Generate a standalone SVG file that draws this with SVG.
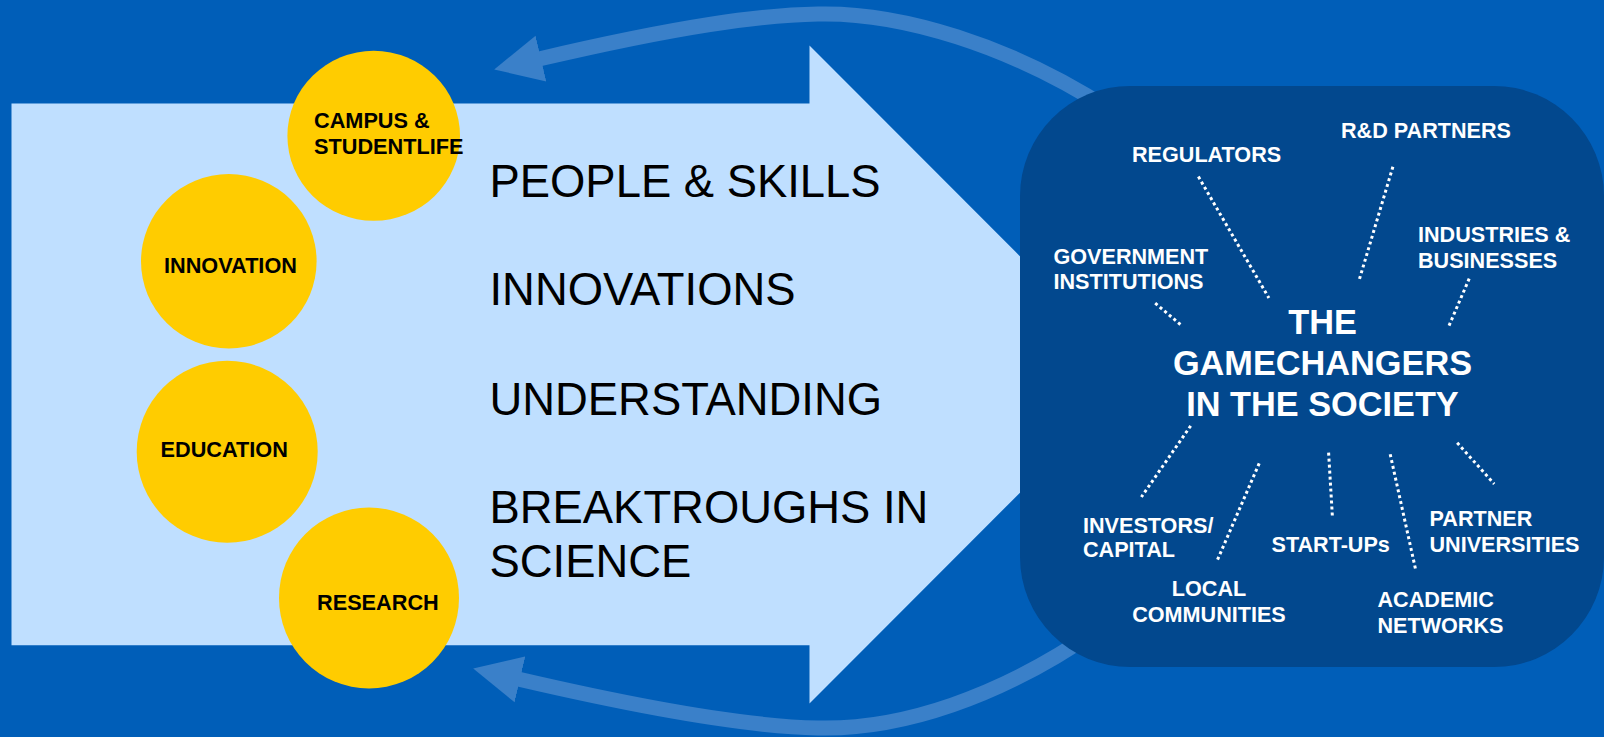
<svg xmlns="http://www.w3.org/2000/svg" width="1604" height="737" viewBox="0 0 1604 737">
  <style>
    .circ { fill: #FFCC00; }
    .clab { font-family: "Liberation Sans", Arial, sans-serif; font-weight: bold; font-size: 21.7px; fill: #000000; }
    .big { font-family: "Liberation Sans", Arial, sans-serif; font-size: 45.4px; fill: #000000; }
    .plab { font-family: "Liberation Sans", Arial, sans-serif; font-weight: bold; font-size: 21.6px; fill: #FFFFFF; }
    .title { font-family: "Liberation Sans", Arial, sans-serif; font-weight: bold; font-size: 34.3px; fill: #FFFFFF; }
    .dot { stroke: #FFFFFF; stroke-width: 3; stroke-dasharray: 3 3; fill: none; }
    .loop { stroke: #3A80C9; stroke-width: 15; fill: none; marker-end: url(#ah); }
  </style>
  <defs>
    <marker id="ah" markerUnits="userSpaceOnUse" markerWidth="50" markerHeight="50" viewBox="0 0 50 50" refX="2" refY="25" orient="auto">
      <path d="M0,1.5 L48,25 L0,48.5 z" fill="#3A80C9"/>
    </marker>
  </defs>

  <rect x="0" y="0" width="1604" height="737" fill="#005EB8"/>

  <g id="connectors-loop">
    <path class="loop" d="M 1110 110 C 1010 45, 900 12, 818 14 C 760 15, 680 26, 539 59"/>
    <path class="loop" d="M 1100 628 C 1000 698, 900 730, 818 728 C 760 727, 660 712, 518 679"/>
  </g>

  <g id="flow-arrow">
    <polygon points="11.5,103.4 809.5,103.4 809.5,45.6 1138,374.5 809.5,703.5 809.5,645.3 11.5,645.3" fill="#BFDFFF"/>
    <text class="big" x="489.5" y="196.7">PEOPLE &amp; SKILLS</text>
    <text class="big" x="489.5" y="305">INNOVATIONS</text>
    <text class="big" x="489.5" y="414.5">UNDERSTANDING</text>
    <text class="big" x="489.5" y="522.6">BREAKTROUGHS IN</text>
    <text class="big" x="489.5" y="577">SCIENCE</text>
  </g>

  <g id="node-campus">
    <ellipse class="circ" cx="373.7" cy="135.8" rx="86.3" ry="85"/>
    <text class="clab" x="314" y="127.7">CAMPUS &amp;</text>
    <text class="clab" x="314" y="154.3">STUDENTLIFE</text>
  </g>
  <g id="node-innovation">
    <ellipse class="circ" cx="228.8" cy="261.3" rx="87.8" ry="87.2"/>
    <text class="clab" x="164" y="273.3">INNOVATION</text>
  </g>
  <g id="node-education">
    <ellipse class="circ" cx="227.2" cy="451.8" rx="90.5" ry="91"/>
    <text class="clab" x="160.5" y="456.7">EDUCATION</text>
  </g>
  <g id="node-research">
    <ellipse class="circ" cx="369" cy="598" rx="90" ry="90.5"/>
    <text class="clab" x="317" y="609.5">RESEARCH</text>
  </g>

  <g id="node-society">
    <rect x="1020" y="86" width="584" height="581" rx="110" ry="110" fill="#02488E"/>
    <text class="title" text-anchor="middle" x="1322.5" y="334">THE</text>
    <text class="title" text-anchor="middle" x="1322.5" y="374.5">GAMECHANGERS</text>
    <text class="title" text-anchor="middle" x="1322.5" y="416">IN THE SOCIETY</text>
  </g>

  <g id="connectors">
    <line class="dot" x1="1198.4" y1="176.6" x2="1268.9" y2="298"/>
    <line class="dot" x1="1392.9" y1="166.8" x2="1359" y2="280.6"/>
    <line class="dot" x1="1469.2" y1="278.7" x2="1448" y2="328"/>
    <line class="dot" x1="1155.2" y1="303.2" x2="1181" y2="325"/>
    <line class="dot" x1="1190.7" y1="425.8" x2="1141.4" y2="497"/>
    <line class="dot" x1="1259.2" y1="463.3" x2="1216.5" y2="562.2"/>
    <line class="dot" x1="1328.6" y1="452.6" x2="1332.4" y2="516.7"/>
    <line class="dot" x1="1390.2" y1="454.2" x2="1416" y2="571.3"/>
    <line class="dot" x1="1457.2" y1="442.8" x2="1494.2" y2="483.9"/>
  </g>

  <g id="node-regulators"><text class="plab" x="1132" y="162">REGULATORS</text></g>
  <g id="node-rd-partners"><text class="plab" x="1341" y="138.3">R&amp;D PARTNERS</text></g>
  <g id="node-industries">
    <text class="plab" x="1418" y="242">INDUSTRIES &amp;</text>
    <text class="plab" x="1418" y="267.5">BUSINESSES</text>
  </g>
  <g id="node-government">
    <text class="plab" x="1053.5" y="263.6">GOVERNMENT</text>
    <text class="plab" x="1053.5" y="288.5">INSTITUTIONS</text>
  </g>
  <g id="node-investors">
    <text class="plab" x="1083" y="532.5">INVESTORS/</text>
    <text class="plab" x="1083" y="557.4">CAPITAL</text>
  </g>
  <g id="node-local">
    <text class="plab" text-anchor="middle" x="1209" y="596">LOCAL</text>
    <text class="plab" text-anchor="middle" x="1209" y="621.5">COMMUNITIES</text>
  </g>
  <g id="node-startups"><text class="plab" x="1271.5" y="551.5">START-UPs</text></g>
  <g id="node-academic">
    <text class="plab" x="1377.5" y="607">ACADEMIC</text>
    <text class="plab" x="1377.5" y="632.5">NETWORKS</text>
  </g>
  <g id="node-partner">
    <text class="plab" x="1429.5" y="526.3">PARTNER</text>
    <text class="plab" x="1429.5" y="551.6">UNIVERSITIES</text>
  </g>
</svg>
